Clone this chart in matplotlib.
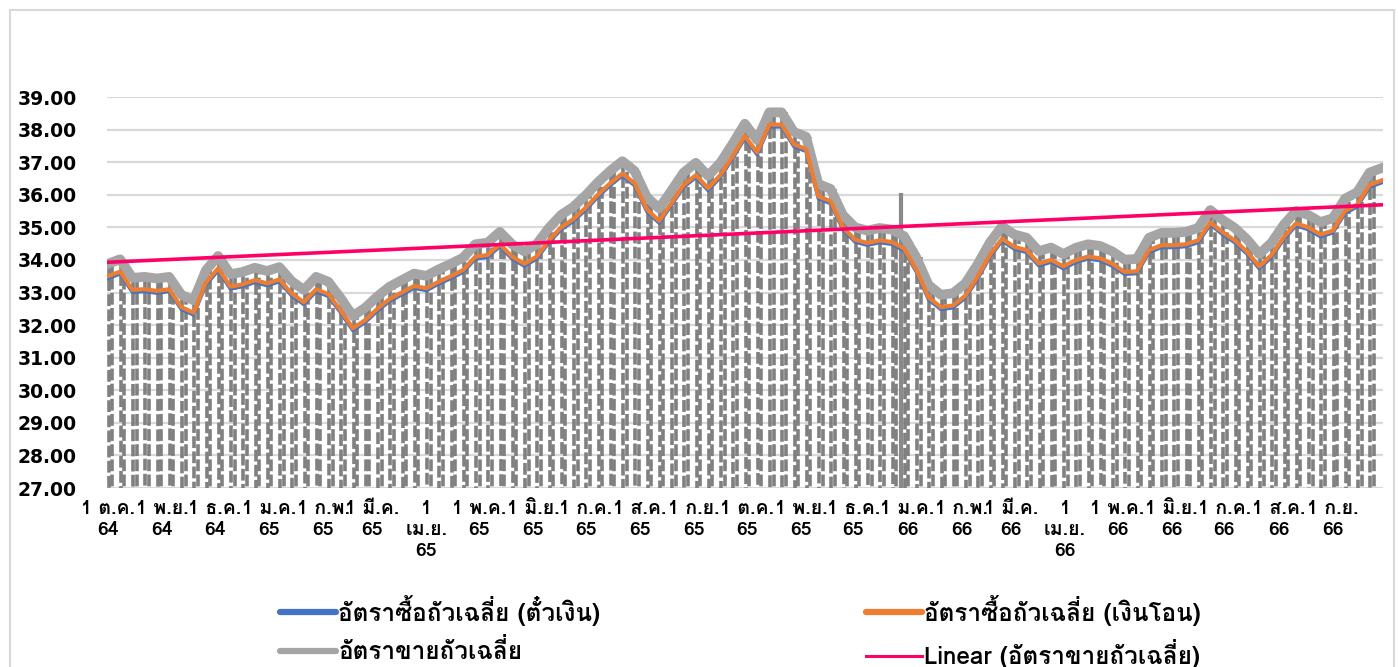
import matplotlib
matplotlib.use("Agg")
import matplotlib.pyplot as plt
import matplotlib.dates as mdates
from matplotlib import font_manager
from matplotlib.lines import Line2D
import numpy as np
import pandas as pd

# weekly readings (every Friday from 1 Oct 2021 to 29 Sep 2023)
week_dates = pd.date_range("2021-10-01", "2023-09-29", freq="7D")

buy_bill = [
    33.43, 33.57, 33.01, 33.03, 32.98, 33.03, 32.48, 32.31, 33.23, 33.67,
    33.11, 33.18, 33.31, 33.21, 33.33, 32.90, 32.63, 33.03, 32.88, 32.38,
    31.83, 32.08, 32.43, 32.73, 32.93, 33.13, 33.06, 33.26, 33.43, 33.62,
    34.03, 34.08, 34.41, 34.03, 33.81, 34.03, 34.53, 34.93, 35.18, 35.53,
    35.93, 36.28, 36.58, 36.28, 35.48, 35.13, 35.67, 36.23, 36.53, 36.13,
    36.53, 37.11, 37.73, 37.23, 38.08, 38.08, 37.48, 37.33, 35.88, 35.73,
    34.93, 34.55, 34.45, 34.53, 34.48, 34.28, 33.63, 32.78, 32.48, 32.53,
    32.83, 33.41, 34.08, 34.58, 34.33, 34.23, 33.82, 33.93, 33.73, 33.92,
    34.03, 33.98, 33.81, 33.56, 33.58, 34.23, 34.38, 34.38, 34.41, 34.53,
    35.08, 34.78, 34.53, 34.18, 33.73, 34.08, 34.63, 35.05, 34.93, 34.71,
    34.83, 35.43, 35.63, 36.23, 36.37,
]
buy_tt = [
    33.50, 33.64, 33.08, 33.10, 33.05, 33.10, 32.55, 32.38, 33.30, 33.74,
    33.18, 33.25, 33.38, 33.28, 33.40, 32.97, 32.70, 33.10, 32.95, 32.45,
    31.90, 32.15, 32.50, 32.80, 33.00, 33.20, 33.13, 33.33, 33.50, 33.69,
    34.10, 34.15, 34.48, 34.10, 33.88, 34.10, 34.60, 35.00, 35.25, 35.60,
    36.00, 36.35, 36.65, 36.35, 35.55, 35.20, 35.74, 36.30, 36.60, 36.20,
    36.60, 37.18, 37.80, 37.30, 38.15, 38.15, 37.55, 37.40, 35.95, 35.80,
    35.00, 34.62, 34.52, 34.60, 34.55, 34.35, 33.70, 32.85, 32.55, 32.60,
    32.90, 33.48, 34.15, 34.65, 34.40, 34.30, 33.89, 34.00, 33.80, 33.99,
    34.10, 34.05, 33.88, 33.63, 33.65, 34.30, 34.45, 34.45, 34.48, 34.60,
    35.15, 34.85, 34.60, 34.25, 33.80, 34.15, 34.70, 35.12, 35.00, 34.78,
    34.90, 35.50, 35.70, 36.30, 36.44,
]
sell = [
    33.88, 34.02, 33.45, 33.48, 33.43, 33.48, 32.93, 32.76, 33.68, 34.12,
    33.56, 33.63, 33.76, 33.66, 33.78, 33.35, 33.08, 33.48, 33.33, 32.83,
    32.28, 32.53, 32.88, 33.18, 33.38, 33.58, 33.51, 33.71, 33.88, 34.07,
    34.48, 34.53, 34.86, 34.48, 34.26, 34.48, 34.98, 35.38, 35.63, 35.98,
    36.38, 36.73, 37.03, 36.73, 35.93, 35.58, 36.12, 36.68, 36.98, 36.58,
    36.98, 37.56, 38.18, 37.68, 38.53, 38.53, 37.93, 37.78, 36.33, 36.18,
    35.38, 35.00, 34.90, 34.98, 34.93, 34.73, 34.08, 33.23, 32.93, 32.98,
    33.28, 33.86, 34.53, 35.03, 34.78, 34.68, 34.27, 34.38, 34.18, 34.37,
    34.48, 34.43, 34.26, 34.01, 34.03, 34.68, 34.83, 34.83, 34.86, 34.98,
    35.53, 35.23, 34.98, 34.63, 34.18, 34.53, 35.08, 35.50, 35.38, 35.16,
    35.28, 35.88, 36.08, 36.68, 36.82,
]
# one odd sell quote at the end of Dec 2022
spike_date = "2022-12-28"
spike_value = 36.05

tick_dates = pd.date_range("2021-10-01", "2023-09-01", freq="MS")
tick_labels = [
    "1 ต.ค.\n64", "1 พ.ย.\n64", "1 ธ.ค.\n64", "1 ม.ค.\n65", "1 ก.พ.\n65",
    "1 มี.ค.\n65", "1\nเม.ย.\n65", "1 พ.ค.\n65", "1 มิ.ย.\n65", "1 ก.ค.\n65",
    "1 ส.ค.\n65", "1 ก.ย.\n65", "1 ต.ค.\n65", "1 พ.ย.\n65", "1 ธ.ค.\n65",
    "1 ม.ค.\n66", "1 ก.พ.\n66", "1 มี.ค.\n66", "1\nเม.ย.\n66", "1 พ.ค.\n66",
    "1 มิ.ย.\n66", "1 ก.ค.\n66", "1 ส.ค.\n66", "1 ก.ย.\n66",
]
labels = ["อัตราซื้อถัวเฉลี่ย (ตั๋วเงิน)", "อัตราซื้อถัวเฉลี่ย (เงินโอน)",
          "อัตราขายถัวเฉลี่ย", "Linear (อัตราขายถัวเฉลี่ย)"]

# Thai text needs a family with Thai glyphs and a bold face
names = {f.name for f in font_manager.fontManager.ttflist}
thai = next((n for n in ["Loma", "Sarabun", "Niramit", "Prompt"] if n in names),
            "DejaVu Sans")
fam = [thai, "DejaVu Sans"]

plt.rcParams["lines.scale_dashes"] = False

fig = plt.figure(figsize=(13.98, 6.67), dpi=100)
ax = fig.add_axes([107 / 1398, 1 - 488 / 667, (1383 - 107) / 1398, (488 - 97) / 667])

x = mdates.date2num(week_dates)
sell_a = np.array(sell)

# weekend drops of the sell series (Fri->Sat and Sun->Mon)
fri = x[:-1] + 0.5
mon = x[:-1] + 2.5
ax.vlines(fri, sell_a[:-1], 0, color="#808080", lw=2.6,
          linestyles=[(0, (8.5, 2.4))], zorder=1)
ax.vlines(mon, 0, sell_a[:-1], color="#808080", lw=2.6,
          linestyles=[(0, (8.5, 2.4))], zorder=1)
sx = mdates.date2num(pd.Timestamp(spike_date))
ax.vlines(sx, 0, spike_value, color="#8a8a8a", lw=3, zorder=1)

ax.plot(x, sell, color="#A5A5A5", lw=7, solid_joinstyle="round", zorder=2)
ax.plot(x, buy_bill, color="#4472C4", lw=2.5, zorder=3)
ax.plot(x, buy_tt, color="#ED7D31", lw=3, zorder=4)

k, b = np.polyfit(x, sell_a, 1)
ax.plot([x[0], x[-1]], [k * x[0] + b, k * x[-1] + b], color="#FF0066", lw=2.6, zorder=5)

ax.set_ylim(27, 39)
ax.set_yticks(np.arange(27, 40, 1))
ax.set_yticklabels([f"{v:.2f}" for v in range(27, 40)], fontsize=13.5,
                   fontweight="bold", family="DejaVu Sans")
ax.set_xlim(x[0] - 0.5, x[-1] + 0.7)
ax.set_xticks(mdates.date2num(tick_dates))
ax.set_xticklabels(tick_labels, fontsize=14, fontweight="bold", family=fam,
                   linespacing=1.2)
ax.tick_params(length=0, pad=9)
ax.tick_params(axis="y", pad=22)
ax.grid(axis="y", color="#D9D9D9", lw=1.6)
ax.set_axisbelow(True)
for s in ax.spines.values():
    s.set_visible(False)

h = [Line2D([], [], color="#4472C4", lw=4.5, solid_capstyle="round"),
     Line2D([], [], color="#ED7D31", lw=4.5, solid_capstyle="round"),
     Line2D([], [], color="#A5A5A5", lw=4.5, solid_capstyle="round"),
     Line2D([], [], color="#FF0066", lw=2.2)]
kw = dict(frameon=False, loc="upper left", handlelength=2.3, handletextpad=0.1,
          labelspacing=0.55, borderpad=0, borderaxespad=0,
          prop={"family": fam, "weight": "bold", "size": 17.5})
fig.legend([h[0], h[2]], [labels[0], labels[2]],
           bbox_to_anchor=(280 / 1398, 1 - 595 / 667), **kw)
fig.legend([h[1], h[3]], [labels[1], labels[3]],
           bbox_to_anchor=(866 / 1398, 1 - 595 / 667), **kw)

# outer chart frame
for xs, ys in [([10, 10], [667, 10]), ([10, 1394], [10, 10]), ([1394, 1394], [10, 667])]:
    fig.add_artist(Line2D([v / 1398 for v in xs], [1 - v / 667 for v in ys],
                          color="#D9D9D9", lw=1.5))

fig.savefig("out.png", dpi=100)
